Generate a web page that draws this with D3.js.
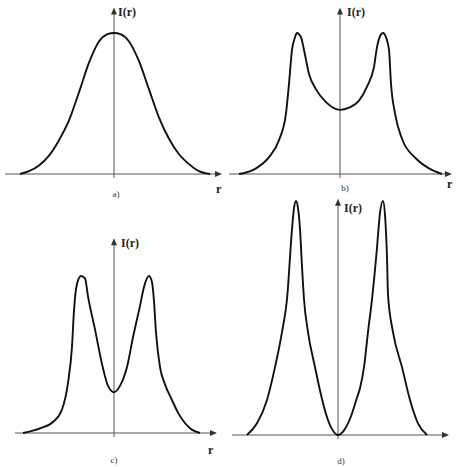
<!DOCTYPE html>
<html><head><meta charset="utf-8">
<script src="https://cdn.jsdelivr.net/npm/d3@7/dist/d3.min.js"></script>
<style>body{margin:0;background:#fff}svg{display:block}</style>
</head><body>
<script>
// Panel a) single bell-shaped peak
const rA = [-94,-85,-75,-65,-55,-45,-35,-25,-15,-7,0,7,15,25,35,45,55,65,75,85,96];
const iA = [0.0,0.02,0.06,0.13,0.24,0.38,0.58,0.79,0.94,0.99,1.0,0.99,0.94,0.80,0.60,0.40,0.25,0.14,0.07,0.02,0.0];
// Panel b) two peaks with shallow central dip
const rB = [-101,-84,-71,-61,-54,-51,-48,-45,-43,-39,-36,-31,-24,-14,0,9,19,27,34,37,41,43,46,49,51,55,62,76,89,102];
const iB = [0.0,0.04,0.12,0.24,0.43,0.64,0.88,0.97,1.0,0.97,0.88,0.71,0.60,0.51,0.455,0.47,0.52,0.62,0.76,0.90,0.99,1.0,0.97,0.88,0.64,0.43,0.25,0.11,0.04,0.0];
// Panel c) two peaks with deeper dip
const rC = [-91,-74,-61,-52,-46,-42,-40,-37,-33,-29,-26,-19,-12,-6,0,6,13,19,26,30,35,38,40,42,46,51,58,64,69,76,86];
const iC = [0.0,0.03,0.07,0.15,0.32,0.55,0.78,0.95,1.0,0.985,0.87,0.66,0.44,0.30,0.26,0.30,0.42,0.61,0.81,0.93,1.0,0.96,0.84,0.64,0.42,0.31,0.21,0.13,0.08,0.03,0.0];
// Panel d) two sharp peaks, zero at centre
const rD = [-91,-81,-71,-63,-56,-51,-46,-44,-42,-40,-38,-36,-34,-30,-23,-18,-12,-6,0,6,13,19,22,26,30,34,39,42,45,47,49,50,55,64,72,80,89];
const iD = [0.0,0.05,0.15,0.29,0.44,0.58,0.88,0.97,1.0,0.97,0.88,0.72,0.58,0.44,0.29,0.19,0.09,0.025,0.0,0.02,0.08,0.16,0.20,0.29,0.44,0.58,0.80,0.95,1.0,0.94,0.76,0.60,0.44,0.29,0.15,0.05,0.0];

const panelLabels = ["a)","b)","c)","d)"];
const axisLabel = "I(r)";
const xLabel = "r";

const W = 458, H = 467;
const svg = d3.select("body").append("svg").attr("width", W).attr("height", H);

const layout = [
  {r:rA, i:iA, cx:114, base:174, peak:33, xMin:-109, xMax:108, yTop:1.18, lab:[116,197], rl:[216,193], il:[118,16]},
  {r:rB, i:iB, cx:340, base:174, peak:33, xMin:-111, xMax:112, yTop:1.18, lab:[345,191], rl:[447,188], il:[347,16]},
  {r:rC, i:iC, cx:114, base:433, peak:276, xMin:-99, xMax:103, yTop:1.24, lab:[114,463], rl:[208,454], il:[121,247]},
  {r:rD, i:iD, cx:338, base:435, peak:201, xMin:-106, xMax:111, yTop:1.01, lab:[341,464], rl:null, il:[344,212]}
];

layout.forEach((p, k) => {
  const x = d3.scaleLinear().domain([-100,100]).range([p.cx-100, p.cx+100]);
  const y = d3.scaleLinear().domain([0,1]).range([p.base, p.peak]);
  const g = svg.append("g");
  const ax = "#555";
  const xe = x(p.xMax), y0 = y(0);
  g.append("line").attr("x1", x(p.xMin)).attr("x2", xe-5)
    .attr("y1", y0).attr("y2", y0).attr("stroke", ax).attr("stroke-width", 1);
  g.append("path").attr("d", `M${xe},${y0} L${xe-7},${y0-3} L${xe-7},${y0+3} Z`).attr("fill", "#333");
  const yt = y(p.yTop);
  g.append("line").attr("x1", x(0)).attr("x2", x(0))
    .attr("y1", y0+4).attr("y2", yt+5).attr("stroke", ax).attr("stroke-width", 1);
  g.append("path").attr("d", `M${x(0)},${yt} L${x(0)-3},${yt+7} L${x(0)+3},${yt+7} Z`).attr("fill", "#333");
  const line = d3.line().x((d,j)=>x(p.r[j])).y(d=>y(d)).curve(d3.curveMonotoneX);
  g.append("path").datum(p.i).attr("d", line).attr("fill","none")
    .attr("stroke","#111").attr("stroke-width",1.9).attr("stroke-linejoin","round");
  g.append("text").attr("x", p.il[0]).attr("y", p.il[1]).text(axisLabel)
    .attr("font-family","Liberation Serif").attr("font-weight","bold").attr("font-size",12).attr("fill","#222");
  if (p.rl) g.append("text").attr("x", p.rl[0]).attr("y", p.rl[1]).text(xLabel)
    .attr("font-family","Liberation Serif").attr("font-weight","bold").attr("font-size",12).attr("fill","#222");
  g.append("text").attr("x", p.lab[0]).attr("y", p.lab[1]).text(panelLabels[k]).attr("text-anchor","middle")
    .attr("font-family","Liberation Serif").attr("font-size",9).attr("fill","#333");
});
</script>
</body></html>
